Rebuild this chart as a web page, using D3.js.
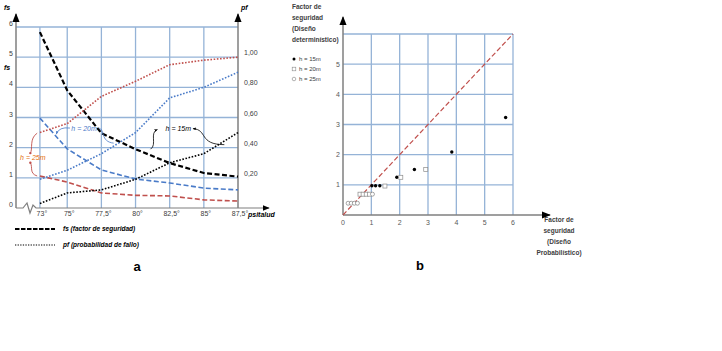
<!DOCTYPE html>
<html>
<head>
<meta charset="utf-8">
<script src="https://cdn.jsdelivr.net/npm/d3@7"></script>
<style>
  body { margin: 0; background: #fff; }
  text { font-family: "Liberation Sans", Arial, sans-serif; }
</style>
</head>
<body>
<script>
// ---- data: chart a ----
var slopes = [73, 75, 77.5, 80, 82.5, 85, 87.5];
var slopeLabels = ["73°", "75°", "77,5°", "80°", "82,5°", "85°", "87,5°"];
var fsTicks = [0, 1, 2, 3, 4, 5, 6];
var pfTicks = [0.2, 0.4, 0.6, 0.8, 1.0];
var pfTickLabels = ["0,20", "0,40", "0,60", "0,80", "1,00"];

var fs15 = [5.83, 3.9, 2.48, 1.95, 1.49, 1.16, 1.04];
var fs20 = [2.98, 1.96, 1.26, 0.96, 0.83, 0.66, 0.6];
var fs25 = [1.06, 0.86, 0.5, 0.42, 0.4, 0.27, 0.23];
var pf15 = [0.03, 0.1, 0.12, 0.19, 0.3, 0.36, 0.5];
var pf20 = [0.19, 0.25, 0.36, 0.5, 0.73, 0.8, 0.9];
var pf25 = [0.5, 0.56, 0.74, 0.84, 0.95, 0.98, 1.0];

// ---- data: chart b ----
var bTicks = [0, 1, 2, 3, 4, 5, 6];
var pts15 = [[1.02, 0.97], [1.15, 0.97], [1.3, 0.97], [1.9, 1.25], [2.52, 1.51], [3.84, 2.09], [5.74, 3.23]];
var pts20 = [[0.6, 0.69], [0.71, 0.69], [0.82, 0.69], [0.93, 0.69], [1.48, 0.96], [2.04, 1.25], [2.92, 1.51]];
var pts25 = [[0.18, 0.39], [0.29, 0.39], [0.4, 0.39], [0.51, 0.39], [1.04, 0.69]];

var gridCol = "#95b3d7", axisCol = "#7f7f7f";
var black = "#000", blue = "#4a7bc8", red = "#c0504d";

var svg = d3.select("body").append("svg")
  .attr("width", 722).attr("height", 351);

var defs = svg.append("defs");
function marker(id, col, size) {
  defs.append("marker").attr("id", id)
    .attr("viewBox", "0 0 10 10").attr("refX", 9).attr("refY", 5)
    .attr("markerWidth", size).attr("markerHeight", size)
    .attr("orient", "auto")
    .append("path").attr("d", "M0,1L10,5L0,9z").attr("fill", col);
}
marker("arrAxis", "#000", 6);
marker("arrBlk", "#000", 4);
marker("arrBlue", blue, 4);

// ========== chart a ==========
var x = d3.scaleLinear().domain([71.25, 87.5]).range([16, 238]);
var y = d3.scaleLinear().domain([0, 6]).range([208, 27]);
var yp = d3.scaleLinear().domain([0, 1.2]).range([208, 27]);

var ga = svg.append("g");

// grid
ga.selectAll(".hg").data(fsTicks.slice(1)).enter().append("line")
  .attr("x1", x(71.25)).attr("x2", x(87.5))
  .attr("y1", function(d) { return y(d); }).attr("y2", function(d) { return y(d); })
  .attr("stroke", gridCol).attr("stroke-width", 1.3);
ga.selectAll(".vg").data(slopes.slice(0, -1)).enter().append("line")
  .attr("x1", function(d) { return x(d); }).attr("x2", function(d) { return x(d); })
  .attr("y1", y(0)).attr("y2", y(6))
  .attr("stroke", gridCol).attr("stroke-width", 1.3);

// axes
ga.append("line").attr("x1", x(71.25)).attr("x2", x(71.25))
  .attr("y1", y(0)).attr("y2", 14).attr("stroke", axisCol).attr("stroke-width", 1.5)
  .attr("marker-end", "url(#arrAxis)");
ga.append("line").attr("x1", x(87.5)).attr("x2", x(87.5))
  .attr("y1", y(0)).attr("y2", 14).attr("stroke", axisCol).attr("stroke-width", 1.5)
  .attr("marker-end", "url(#arrAxis)");
ga.append("path")
  .attr("d", "M" + x(71.25) + "," + y(0) + "L23," + y(0) + "L27,203L30,213L33,205L36," + y(0) + "L269," + y(0))
  .attr("fill", "none").attr("stroke", axisCol).attr("stroke-width", 1.2)
  .attr("marker-end", "url(#arrAxis)");

// tick labels
ga.selectAll(".fl").data(fsTicks).enter().append("text")
  .attr("x", 13).attr("y", function(d) { return y(d) - 1; })
  .attr("text-anchor", "end").attr("font-size", 7).attr("fill", "#404040")
  .text(function(d) { return d; });
ga.selectAll(".pl").data(pfTicks).enter().append("text")
  .attr("x", 244).attr("y", function(d) { return yp(d) - 2; })
  .attr("font-size", 7).attr("fill", "#404040")
  .text(function(d, i) { return pfTickLabels[i]; });
ga.selectAll(".xl").data(slopes).enter().append("text")
  .attr("x", function(d) { return x(d) + 2; }).attr("y", 216)
  .attr("text-anchor", "middle").attr("font-size", 7).attr("fill", "#404040")
  .text(function(d, i) { return slopeLabels[i]; });

ga.append("text").attr("x", 4).attr("y", 10).attr("font-size", 7)
  .attr("font-weight", "bold").attr("font-style", "italic").text("fs");
ga.append("text").attr("x", 4).attr("y", 70).attr("font-size", 7)
  .attr("font-weight", "bold").attr("font-style", "italic").text("fs");
ga.append("text").attr("x", 241).attr("y", 10).attr("font-size", 7)
  .attr("font-weight", "bold").attr("font-style", "italic").text("pf");
ga.append("text").attr("x", 248).attr("y", 217).attr("font-size", 7)
  .attr("font-weight", "bold").attr("font-style", "italic").text("psitalud");

// series
var lineFs = d3.line().x(function(d, i) { return x(slopes[i]); }).y(function(d) { return y(d); });
var linePf = d3.line().x(function(d, i) { return x(slopes[i]); }).y(function(d) { return yp(d); });

var fsSeries = [[fs15, black, 2.2], [fs20, blue, 1.6], [fs25, red, 1.6]];
var pfSeries = [[pf15, black], [pf20, blue], [pf25, red]];

fsSeries.forEach(function(s) {
  ga.append("path").datum(s[0]).attr("d", lineFs)
    .attr("fill", "none").attr("stroke", s[1]).attr("stroke-width", s[2])
    .attr("stroke-dasharray", "5,2.5");
});
pfSeries.forEach(function(s) {
  ga.append("path").datum(s[0]).attr("d", linePf)
    .attr("fill", "none").attr("stroke", s[1]).attr("stroke-width", 1.6)
    .attr("stroke-dasharray", "1.6,1.6");
});

// annotations (positions in data units)
function P(deg, v) { return x(deg) + "," + y(v); }
ga.append("text").attr("x", x(75.3)).attr("y", y(2.55)).attr("font-size", 7)
  .attr("font-style", "italic").attr("fill", blue).text("h = 20m");
ga.append("path").attr("d", "M" + P(75.2, 2.65) + "Q" + P(74.4, 2.7) + " " + P(74.2, 2.45))
  .attr("fill", "none").attr("stroke", blue).attr("stroke-width", 0.8).attr("marker-end", "url(#arrBlue)");
ga.append("path").attr("d", "M" + P(77.3, 2.65) + "C" + P(77.8, 2.6) + " " + P(77.4, 2.2) + " " + P(78.4, 2.15))
  .attr("fill", "none").attr("stroke", blue).attr("stroke-width", 0.8);

ga.append("text").attr("x", x(82.2)).attr("y", y(2.55)).attr("font-size", 7)
  .attr("font-style", "italic").attr("fill", black).text("h = 15m");
ga.append("path").attr("d", "M" + P(81.1, 1.95) + "C" + P(81.6, 2.1) + " " + P(81.0, 2.5) + " " + P(81.6, 2.6))
  .attr("fill", "none").attr("stroke", black).attr("stroke-width", 0.8).attr("marker-end", "url(#arrBlk)");
ga.append("path").attr("d", "M" + P(86.5, 2.1) + "C" + P(84.6, 2.1) + " " + P(85.3, 2.6) + " " + P(84.2, 2.63))
  .attr("fill", "none").attr("stroke", black).attr("stroke-width", 0.8).attr("marker-end", "url(#arrBlk)");

ga.append("text").attr("x", x(71.55)).attr("y", y(1.6)).attr("font-size", 7)
  .attr("font-style", "italic").attr("fill", "#e46c0a").text("h = 25m");
ga.append("path").attr("d", "M" + P(72.8, 2.48) + "C" + P(72.2, 2.3) + " " + P(72.5, 1.95) + " " + P(72.3, 1.82)
    + "M" + P(72.3, 1.5) + "C" + P(72.5, 1.35) + " " + P(72.2, 1.15) + " " + P(72.8, 1.06))
  .attr("fill", "none").attr("stroke", red).attr("stroke-width", 0.9);
ga.selectAll(".bd").data([1.82, 1.5]).enter().append("circle")
  .attr("cx", x(72.3)).attr("cy", function(d) { return y(d); }).attr("r", 1.2).attr("fill", red);

// legend
ga.append("line").attr("x1", 15).attr("x2", 55).attr("y1", 229).attr("y2", 229)
  .attr("stroke", black).attr("stroke-width", 1.8).attr("stroke-dasharray", "4.5,1.5");
ga.append("line").attr("x1", 15).attr("x2", 55).attr("y1", 245).attr("y2", 245)
  .attr("stroke", black).attr("stroke-width", 1.2).attr("stroke-dasharray", "1.3,1.3");
ga.append("text").attr("x", 63).attr("y", 231).attr("font-size", 6.5)
  .attr("font-weight", "bold").attr("font-style", "italic").text("fs (factor de seguridad)");
ga.append("text").attr("x", 63).attr("y", 247).attr("font-size", 6.5)
  .attr("font-weight", "bold").attr("font-style", "italic").text("pf (probabilidad de fallo)");
ga.append("text").attr("x", 137).attr("y", 271).attr("font-size", 13)
  .attr("font-weight", "bold").attr("text-anchor", "middle").text("a");

// ========== chart b ==========
var bx = d3.scaleLinear().domain([0, 6]).range([343, 513]);
var by = d3.scaleLinear().domain([0, 6]).range([215, 34]);
var gb = svg.append("g");

gb.selectAll(".hg").data(bTicks.slice(1)).enter().append("line")
  .attr("x1", bx(0)).attr("x2", bx(6))
  .attr("y1", function(d) { return by(d); }).attr("y2", function(d) { return by(d); })
  .attr("stroke", gridCol).attr("stroke-width", 1.3);
gb.selectAll(".vg").data(bTicks.slice(1)).enter().append("line")
  .attr("x1", function(d) { return bx(d); }).attr("x2", function(d) { return bx(d); })
  .attr("y1", by(0)).attr("y2", by(6))
  .attr("stroke", gridCol).attr("stroke-width", 1.3);

gb.append("line").attr("x1", bx(0)).attr("x2", bx(0)).attr("y1", by(0)).attr("y2", 17)
  .attr("stroke", axisCol).attr("stroke-width", 1.5).attr("marker-end", "url(#arrAxis)");
gb.append("line").attr("x1", bx(0)).attr("x2", 550).attr("y1", by(0)).attr("y2", by(0))
  .attr("stroke", axisCol).attr("stroke-width", 1.5).attr("marker-end", "url(#arrAxis)");

gb.selectAll(".yl").data(bTicks.slice(1, 6)).enter().append("text")
  .attr("x", 340).attr("y", function(d) { return by(d) + 2.5; })
  .attr("text-anchor", "end").attr("font-size", 7).attr("fill", "#595959")
  .text(function(d) { return d; });
gb.selectAll(".xl").data(bTicks).enter().append("text")
  .attr("x", function(d) { return bx(d); }).attr("y", 224.5)
  .attr("text-anchor", "middle").attr("font-size", 7).attr("fill", "#595959")
  .text(function(d) { return d; });

// diagonal fs = fs
gb.append("line").attr("x1", bx(0)).attr("y1", by(0)).attr("x2", bx(6)).attr("y2", by(6))
  .attr("stroke", red).attr("stroke-width", 1.2).attr("stroke-dasharray", "5,2.5");

gb.selectAll(".p15").data(pts15).enter().append("circle")
  .attr("cx", function(d) { return bx(d[0]); }).attr("cy", function(d) { return by(d[1]); })
  .attr("r", 1.7).attr("fill", "#000");
gb.selectAll(".p20").data(pts20).enter().append("rect")
  .attr("x", function(d) { return bx(d[0]) - 2; }).attr("y", function(d) { return by(d[1]) - 2; })
  .attr("width", 4).attr("height", 4).attr("fill", "#fff").attr("stroke", "#8c8c8c").attr("stroke-width", 0.7);
gb.selectAll(".p25").data(pts25).enter().append("circle")
  .attr("cx", function(d) { return bx(d[0]); }).attr("cy", function(d) { return by(d[1]); })
  .attr("r", 2).attr("fill", "#fff").attr("stroke", "#7f7f7f").attr("stroke-width", 0.7);

// axis titles
var yTitle = ["Factor de", "seguridad", "(Diseño", "determinístico)"];
gb.selectAll(".yt").data(yTitle).enter().append("text")
  .attr("x", 292).attr("y", function(d, i) { return 9 + i * 11; })
  .attr("font-size", 6.5).attr("font-weight", "bold").attr("fill", "#404040")
  .text(function(d) { return d; });
var xTitle = ["Factor de", "seguridad", "(Diseño", "Probabilístico)"];
gb.selectAll(".xt").data(xTitle).enter().append("text")
  .attr("x", 559).attr("y", function(d, i) { return 222 + i * 11; })
  .attr("text-anchor", "middle")
  .attr("font-size", 6.5).attr("font-weight", "bold").attr("fill", "#404040")
  .text(function(d) { return d; });

// legend b
var legB = ["h = 15m", "h = 20m", "h = 25m"];
var lg = gb.selectAll(".lg").data(legB).enter().append("g")
  .attr("transform", function(d, i) { return "translate(294," + (59 + i * 10) + ")"; });
lg.append("text").attr("x", 5).attr("y", 2.2).attr("font-size", 6).attr("fill", "#404040")
  .text(function(d) { return d; });
lg.filter(function(d, i) { return i === 0; }).append("circle").attr("r", 1.5).attr("fill", "#000");
lg.filter(function(d, i) { return i === 1; }).append("rect").attr("x", -1.8).attr("y", -1.8)
  .attr("width", 3.6).attr("height", 3.6).attr("fill", "#fff").attr("stroke", "#8c8c8c").attr("stroke-width", 0.6);
lg.filter(function(d, i) { return i === 2; }).append("circle").attr("r", 1.8)
  .attr("fill", "#fff").attr("stroke", "#7f7f7f").attr("stroke-width", 0.6);

gb.append("text").attr("x", 420).attr("y", 270).attr("font-size", 13)
  .attr("font-weight", "bold").attr("text-anchor", "middle").text("b");
</script>
</body>
</html>
